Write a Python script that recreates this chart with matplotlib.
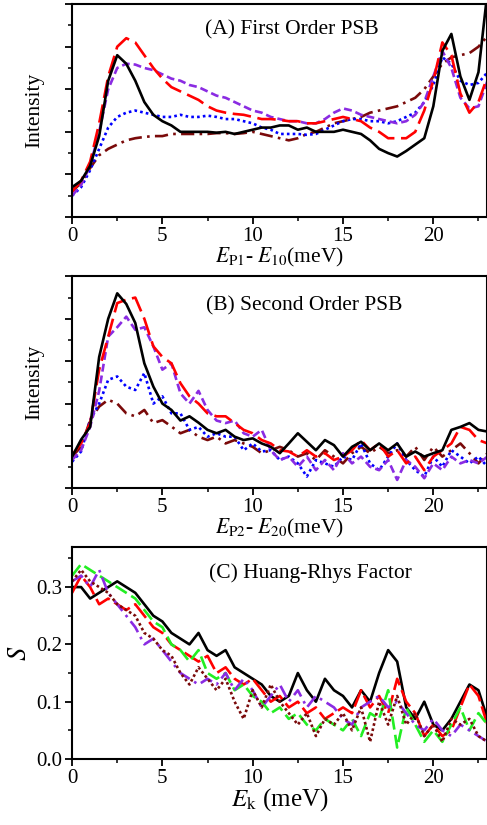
import numpy as np
import matplotlib
matplotlib.use("Agg")
import matplotlib.pyplot as plt
from matplotlib.ticker import MultipleLocator, NullFormatter

# shared energy grid (meV), 0..23 in 0.5 steps
energy = [0, 0.5, 1, 1.5, 2, 2.5, 3, 3.5, 4, 4.5, 5, 5.5, 6, 6.5, 7, 7.5, 8, 8.5,
          9, 9.5, 10, 10.5, 11, 11.5, 12, 12.5, 13, 13.5, 14, 14.5, 15, 15.5, 16,
          16.5, 17, 17.5, 18, 18.5, 19, 19.5, 20, 20.5, 21, 21.5, 22, 22.5, 23]

# (A) first order PSB, arbitrary intensity units
a_black = [0.7, 0.85, 1.2, 1.9, 3.2, 3.8, 3.6, 3.2, 2.7, 2.4, 2.25, 2.15, 2.0, 2.0, 2.0, 2.0,
           1.98, 2.0, 1.95, 2.0, 2.05, 2.1, 2.1, 2.15, 2.15, 2.05, 2.1, 2.0, 2.0, 2.0, 2.05,
           2.0, 1.95, 1.8, 1.6, 1.5, 1.42, 1.55, 1.7, 1.85, 2.6, 3.9, 4.3, 3.3, 2.75, 3.4, 5.3]
a_red = [0.6, 0.85, 1.3, 2.2, 3.3, 4.0, 4.2, 4.1, 3.8, 3.5, 3.25, 3.05, 2.95, 2.85, 2.75, 2.6,
         2.5, 2.45, 2.42, 2.4, 2.35, 2.3, 2.3, 2.28, 2.25, 2.25, 2.2, 2.2, 2.25, 2.3, 2.35,
         2.3, 2.25, 2.1, 2.0, 1.85, 1.85, 1.85, 2.0, 2.5, 3.2, 4.1, 3.8, 2.9, 2.45, 2.7, 3.3]
a_purple = [0.5, 0.75, 1.2, 2.0, 3.0, 3.5, 3.6, 3.58, 3.5, 3.45, 3.35, 3.25, 3.2, 3.1, 3.05, 2.95,
            2.85, 2.8, 2.7, 2.6, 2.5, 2.45, 2.35, 2.3, 2.25, 2.25, 2.2, 2.2, 2.3, 2.45, 2.55,
            2.5, 2.4, 2.35, 2.3, 2.25, 2.2, 2.25, 2.4, 2.7, 3.3, 3.9, 3.5, 2.8, 2.55, 2.6, 3.2]
a_blue = [0.5, 0.7, 1.1, 1.6, 2.1, 2.35, 2.45, 2.5, 2.45, 2.4, 2.35, 2.35, 2.4, 2.35, 2.35, 2.38,
          2.35, 2.3, 2.3, 2.25, 2.2, 2.1, 2.05, 1.95, 1.95, 1.95, 1.93, 1.95, 2.05, 2.15, 2.25,
          2.3, 2.3, 2.25, 2.25, 2.2, 2.25, 2.35, 2.45, 2.7, 3.1, 3.75, 3.6, 3.2, 3.1, 3.15, 3.4]
a_darkred = [0.6, 0.8, 1.15, 1.45, 1.6, 1.7, 1.8, 1.85, 1.88, 1.9, 1.9, 1.95, 1.95, 1.95, 1.95, 1.95,
             1.97, 1.97, 1.95, 1.97, 2.0, 1.95, 1.9, 1.85, 1.8, 1.85, 1.95, 2.0, 2.1, 2.2, 2.25,
             2.3, 2.35, 2.45, 2.5, 2.55, 2.6, 2.7, 2.8, 3.0, 3.3, 3.6, 3.75, 3.8, 3.85, 4.0, 4.25]

# (B) second order PSB
b_black = [0.75, 1.15, 1.45, 3.1, 4.0, 4.6, 4.35, 3.9, 2.95, 2.4, 2.0, 1.85, 1.6, 1.7, 1.55, 1.38,
           1.3, 1.38, 1.22, 1.14, 1.18, 1.06, 0.98, 0.83, 1.06, 1.3, 1.1, 0.9, 1.14, 1.02, 0.75,
           0.98, 1.1, 0.9, 1.06, 0.9, 1.06, 0.75, 0.87, 0.75, 0.83, 0.9, 1.38, 1.45, 1.54, 1.38, 1.34]
b_red = [0.79, 1.06, 1.54, 2.8, 3.58, 4.37, 4.45, 4.5, 4.0, 3.35, 3.1, 2.95, 2.48, 2.17, 2.0, 1.77,
         1.7, 1.7, 1.54, 1.38, 1.3, 1.14, 1.06, 0.9, 0.87, 0.75, 0.9, 0.75, 0.83, 0.67, 0.75,
         0.9, 1.14, 0.9, 1.06, 0.75, 0.9, 0.59, 0.75, 0.43, 0.75, 0.9, 1.06, 1.45, 1.38, 1.14, 1.06]
b_purple = [0.67, 0.9, 1.45, 2.3, 3.58, 3.8, 4.05, 3.74, 3.8, 3.35, 2.8, 2.95, 2.24, 2.0, 2.3, 1.85,
            1.6, 1.54, 1.6, 1.3, 1.22, 1.38, 0.9, 0.67, 0.75, 0.51, 0.75, 0.43, 0.67, 0.43, 0.83,
            0.59, 0.75, 0.51, 0.43, 0.67, 0.2, 0.67, 0.51, 0.24, 0.59, 0.43, 0.75, 0.59, 0.67, 0.59, 0.75]
b_blue = [0.63, 0.87, 1.61, 2.0, 2.56, 2.64, 2.4, 2.32, 2.72, 2.0, 2.17, 1.77, 1.77, 1.38, 1.45, 1.22,
          1.3, 1.22, 1.22, 0.9, 1.06, 0.87, 0.9, 0.67, 0.75, 0.59, 0.28, 0.67, 0.59, 0.51, 0.75,
          0.67, 1.06, 0.59, 0.43, 0.75, 1.06, 0.67, 0.43, 0.28, 0.75, 0.51, 0.9, 0.75, 0.59, 0.75, 0.51]
b_darkred = [0.75, 0.98, 1.61, 1.93, 2.09, 2.0, 1.77, 1.7, 1.85, 1.54, 1.61, 1.46, 1.3, 1.38, 1.22, 1.14,
             1.22, 1.06, 1.14, 1.06, 0.98, 0.83, 0.9, 0.98, 0.9, 0.75, 0.83, 0.67, 0.9, 0.75, 0.59,
             0.83, 0.98, 0.83, 0.98, 0.83, 0.9, 0.75, 0.98, 0.67, 0.98, 0.75, 0.9, 1.06, 0.83, 0.59, 0.83]

# (C) Huang-Rhys factor S
c_black = [0.30, 0.30, 0.28, 0.29, 0.30, 0.31, 0.30, 0.29, 0.27, 0.25, 0.24, 0.22, 0.21, 0.20, 0.22, 0.19,
           0.18, 0.19, 0.16, 0.15, 0.14, 0.13, 0.11, 0.10, 0.11, 0.15, 0.12, 0.10, 0.14, 0.12, 0.11,
           0.09, 0.12, 0.10, 0.15, 0.19, 0.17, 0.09, 0.07, 0.10, 0.06, 0.05, 0.07, 0.10, 0.13, 0.12, 0.07]
c_red = [0.29, 0.32, 0.30, 0.27, 0.28, 0.27, 0.26, 0.27, 0.25, 0.23, 0.22, 0.20, 0.19, 0.18, 0.17, 0.18,
         0.15, 0.16, 0.14, 0.13, 0.14, 0.12, 0.10, 0.11, 0.09, 0.10, 0.08, 0.09, 0.07, 0.08, 0.09,
         0.08, 0.12, 0.09, 0.11, 0.08, 0.14, 0.10, 0.08, 0.04, 0.06, 0.04, 0.05, 0.09, 0.13, 0.11, 0.06]
c_green = [0.32, 0.34, 0.33, 0.32, 0.31, 0.30, 0.29, 0.28, 0.26, 0.24, 0.23, 0.20, 0.19, 0.17, 0.19, 0.15,
           0.14, 0.15, 0.12, 0.13, 0.11, 0.10, 0.08, 0.09, 0.07, 0.08, 0.06, 0.05, 0.07, 0.06, 0.05,
           0.07, 0.04, 0.08, 0.07, 0.12, 0.02, 0.09, 0.06, 0.03, 0.05, 0.03, 0.06, 0.09, 0.05, 0.08, 0.06]
c_purple = [0.31, 0.32, 0.30, 0.33, 0.29, 0.27, 0.25, 0.23, 0.20, 0.21, 0.19, 0.17, 0.15, 0.14, 0.13, 0.14,
            0.13, 0.15, 0.12, 0.14, 0.12, 0.09, 0.11, 0.13, 0.10, 0.12, 0.09, 0.11, 0.10, 0.09, 0.07,
            0.06, 0.09, 0.10, 0.11, 0.09, 0.10, 0.08, 0.06, 0.05, 0.07, 0.05, 0.04, 0.06, 0.05, 0.04, 0.03]
c_darkred = [0.31, 0.33, 0.31, 0.30, 0.29, 0.27, 0.26, 0.25, 0.22, 0.21, 0.19, 0.18, 0.15, 0.13, 0.16, 0.14,
             0.12, 0.14, 0.10, 0.07, 0.12, 0.09, 0.13, 0.10, 0.08, 0.06, 0.08, 0.04, 0.07, 0.06, 0.08,
             0.05, 0.09, 0.03, 0.10, 0.06, 0.11, 0.06, 0.08, 0.04, 0.06, 0.03, 0.07, 0.06, 0.07, 0.04, 0.03]

plt.rcParams["font.family"] = ["Liberation Serif", "DejaVu Serif"]
plt.rcParams["mathtext.fontset"] = "stix"

BLACK = "black"
RED = "#ff0000"
PURPLE = "#8a2be2"
BLUE = "#0000ff"
DARKRED = "#7a0a0a"
GREEN = "#22ee22"
LW = 1.9
FS = 15.5

fig = plt.figure(figsize=(4.87, 8.25), dpi=100)
ax_a = fig.add_axes([0.148, 0.737, 0.853, 0.258])
ax_b = fig.add_axes([0.148, 0.408, 0.853, 0.257])
ax_c = fig.add_axes([0.148, 0.080, 0.853, 0.257])

ax_a.plot(energy, a_darkred, color=DARKRED, lw=LW, ls=(0, (5, 2, 1, 2)))
ax_a.plot(energy, a_blue, color=BLUE, lw=LW, ls=(0, (1, 1.2)))
ax_a.plot(energy, a_purple, color=PURPLE, lw=LW, ls=(0, (3, 1.5)))
ax_a.plot(energy, a_red, color=RED, lw=LW, ls=(0, (7, 2.5)))
ax_a.plot(energy, a_black, color=BLACK, lw=LW)

ax_b.plot(energy, b_darkred, color=DARKRED, lw=LW, ls=(0, (5, 2, 1, 2)))
ax_b.plot(energy, b_blue, color=BLUE, lw=LW, ls=(0, (1, 1.2)))
ax_b.plot(energy, b_purple, color=PURPLE, lw=LW, ls=(0, (3, 1.5)))
ax_b.plot(energy, b_red, color=RED, lw=LW, ls=(0, (7, 2.5)))
ax_b.plot(energy, b_black, color=BLACK, lw=LW)

ax_c.plot(energy, c_black, color=BLACK, lw=LW)
ax_c.plot(energy, c_red, color=RED, lw=LW, ls=(0, (7, 2)))
ax_c.plot(energy, c_green, color=GREEN, lw=LW, ls=(0, (5, 2)))
ax_c.plot(energy, c_purple, color=PURPLE, lw=LW, ls=(0, (5, 2, 1, 2)))
ax_c.plot(energy, c_darkred, color=DARKRED, lw=LW, ls=(0, (1, 1)))

for ax in (ax_a, ax_b, ax_c):
    ax.set_xlim(0, 23)
    ax.xaxis.set_major_locator(MultipleLocator(5))
    ax.xaxis.set_minor_locator(MultipleLocator(2.5))
    ax.tick_params(which="major", direction="out", length=5, width=1.3, labelsize=15)
    ax.tick_params(which="minor", direction="out", length=3, width=1.1)
    ax.tick_params(axis="both", pad=2)
    for sp in ax.spines.values():
        sp.set_linewidth(1.5)

for ax in (ax_a, ax_b):
    ax.set_ylim(0, 5)
    ax.yaxis.set_major_locator(MultipleLocator(1))
    ax.yaxis.set_minor_locator(MultipleLocator(0.5))
    ax.yaxis.set_major_formatter(NullFormatter())
    ax.set_ylabel("Intensity", fontsize=FS, labelpad=13)

ax_c.set_ylim(0, 0.37)
ax_c.yaxis.set_major_locator(MultipleLocator(0.1))
ax_c.yaxis.set_minor_locator(MultipleLocator(0.05))
ax_c.yaxis.set_major_formatter(matplotlib.ticker.FormatStrFormatter("%.1f"))

ax_a.text(0.53, 0.88, "(A) First Order PSB", transform=ax_a.transAxes,
          ha="center", va="center", fontsize=FS)
ax_b.text(0.558, 0.863, "(B) Second Order PSB", transform=ax_b.transAxes,
          ha="center", va="center", fontsize=FS)
ax_c.text(0.575, 0.877, "(C) Huang-Rhys Factor", transform=ax_c.transAxes,
          ha="center", va="center", fontsize=FS)

ax_a.set_xlabel(r"$E_{\mathrm{P1}}$- $E_{10}$(meV)", fontsize=FS, labelpad=0)
ax_b.set_xlabel(r"$E_{\mathrm{P2}}$- $E_{20}$(meV)", fontsize=FS, labelpad=0)
ax_c.set_xlabel(r"$E_{\mathrm{k}}$ (meV)", fontsize=18, labelpad=-1)
ax_c.set_ylabel(r"$S$", fontsize=19, labelpad=4)

fig.savefig("out.png", dpi=100)
